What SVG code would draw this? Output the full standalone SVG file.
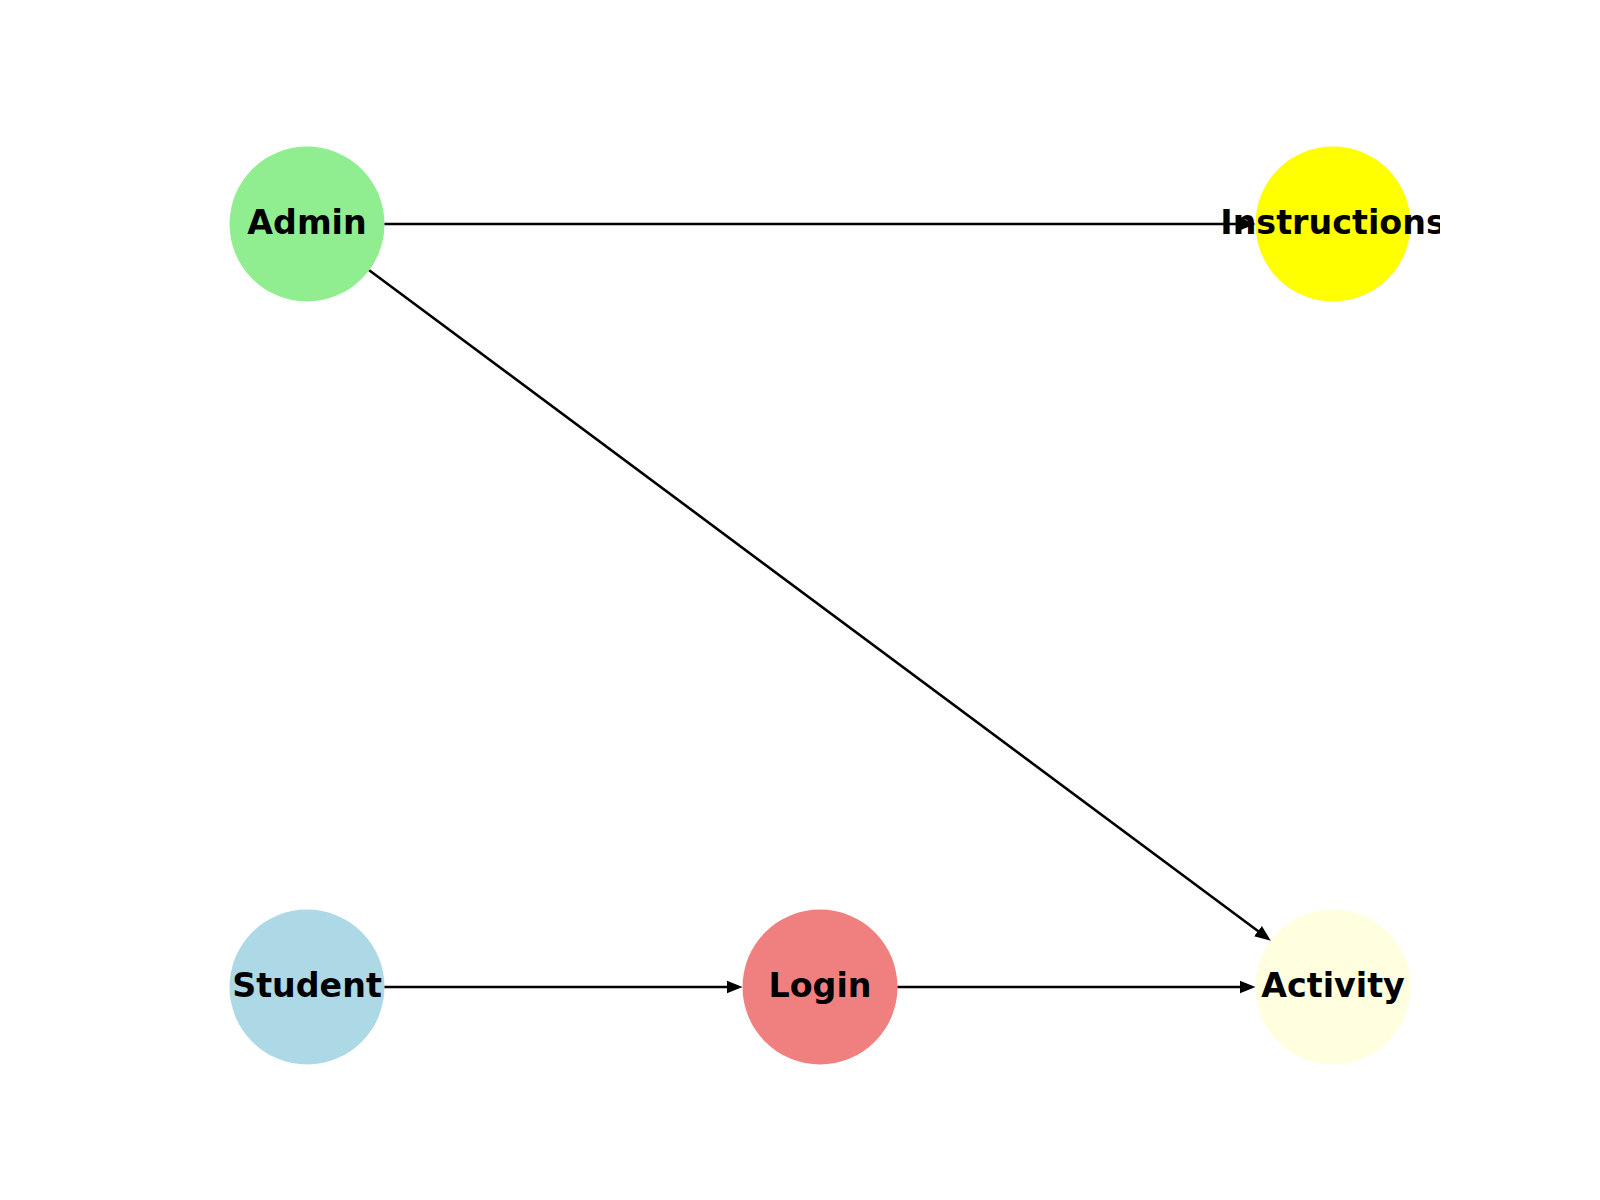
<svg xmlns="http://www.w3.org/2000/svg" width="1600" height="1200" viewBox="0 0 1600 1200">
<defs>
<marker id="arr" markerUnits="userSpaceOnUse" markerWidth="18" markerHeight="16" viewBox="0 -8 18 16" refX="2" refY="0" orient="auto">
<path d="M0,-6.5 L16,0 L0,6.5 z" fill="#000"/>
</marker>
<clipPath id="ax"><rect x="200" y="144" width="1240" height="924"/></clipPath>
</defs>
<style>
.edge{stroke:#000;stroke-width:2.6;fill:none;marker-end:url(#arr)}
.lbl{font-family:"DejaVu Sans",sans-serif;font-weight:bold;font-size:33.3px;text-anchor:middle;fill:#000}
</style>
<rect width="1600" height="1200" fill="#fff"/>
<g id="nodes-shapes">
<g id="node-admin"><circle cx="307" cy="224" r="77.5" fill="#90EE90"/></g>
<g id="node-instructions"><circle cx="1333" cy="224" r="77.5" fill="#FFFF00"/></g>
<g id="node-student"><circle cx="307" cy="987" r="77.5" fill="#ADD8E6"/></g>
<g id="node-login"><circle cx="820" cy="987" r="77.5" fill="#F08080"/></g>
<g id="node-activity"><circle cx="1333" cy="987" r="77.5" fill="#FFFFE0"/></g>
</g>
<g id="connectors">
<line class="edge" x1="384.5" y1="224" x2="1241.5" y2="224"/>
<line class="edge" x1="369.2" y1="270.2" x2="1259.6" y2="932.3"/>
<line class="edge" x1="384.5" y1="987" x2="728.5" y2="987"/>
<line class="edge" x1="897.5" y1="987" x2="1241.5" y2="987"/>
</g>
<g id="labels" clip-path="url(#ax)">
<text class="lbl" x="307" y="234">Admin</text>
<text class="lbl" x="1333" y="234">Instructions</text>
<text class="lbl" x="307" y="997">Student</text>
<text class="lbl" x="820" y="997">Login</text>
<text class="lbl" x="1333" y="997">Activity</text>
</g>
</svg>
